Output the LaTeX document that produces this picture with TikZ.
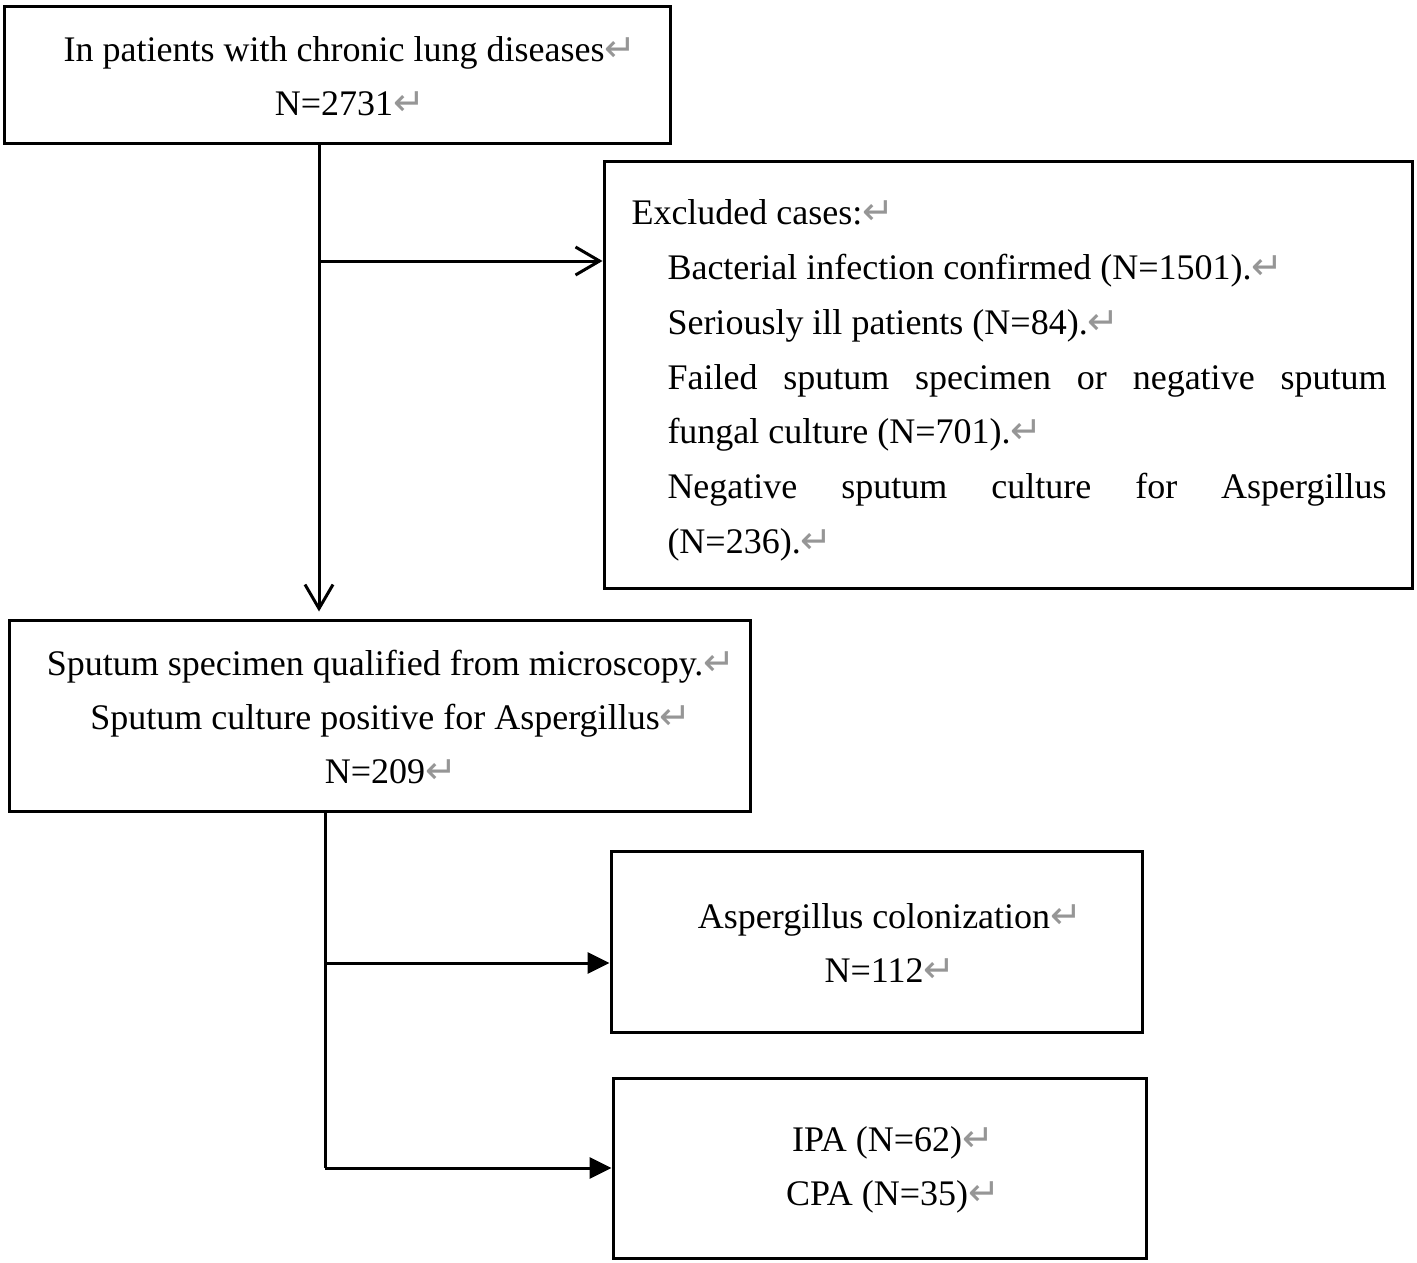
\documentclass[tikz,border=0pt]{standalone}
\usepackage{fontspec}
\setmainfont{Liberation Serif}
\newfontfamily\symfont{DejaVu Sans}
\usetikzlibrary{arrows.meta}
\definecolor{retgray}{RGB}{150,150,150}
\newcommand{\ret}{{\symfont\fontsize{38}{38}\selectfont\textcolor{retgray}{↵}}}
\begin{document}
\begin{tikzpicture}[x=1pt,y=-1pt, line width=3pt,
  box/.style={draw, rectangle, inner sep=0pt},
  txt/.style={align=center, font=\fontsize{36}{54}\selectfont, inner sep=0pt},
  openarrow/.style={-{Straight Barb[length=24pt,width=28pt,line width=3pt]}},
  fullarrow/.style={-{Triangle[length=22pt,width=21pt]}}
]
\useasboundingbox (0,0) rectangle (1417,1263);
% boxes
\node[box, minimum width=666pt, minimum height=136pt] (b1) at (337,75) {};
\node[box, minimum width=808pt, minimum height=427pt] (b2) at (1008,374.5) {};
\node[box, minimum width=741pt, minimum height=191pt] (b3) at (379.5,715.5) {};
\node[box, minimum width=531pt, minimum height=181pt] (b4) at (876.5,941.5) {};
\node[box, minimum width=533pt, minimum height=180pt] (b5) at (879.5,1168) {};
% texts
\node[txt] (t1) at (350,76) {In patients with chronic lung diseases\ret\\N=2731\ret};
\node[txt] (t3) at (391,717) {Sputum specimen qualified from microscopy.\ret\\Sputum culture positive for Aspergillus\ret\\N=209\ret};
\node[txt] (t4) at (890,943) {Aspergillus colonization\ret\\N=112\ret};
\node[txt] (t5) at (893,1170) {IPA (N=62)\ret\\CPA (N=35)\ret};
\node[inner sep=0pt, text width=755pt, anchor=west, align=justify,
      font=\fontsize{36}{54.8}\selectfont] (t2) at (630,380.5) {%
  \parindent=0pt\leftskip=0pt Excluded cases:\ret\par
  \leftskip=36pt
  Bacterial infection confirmed (N=1501).\ret\par
  Seriously ill patients (N=84).\ret\par
  Failed sputum specimen or negative sputum\linebreak fungal culture (N=701).\ret\par
  Negative sputum culture for Aspergillus\linebreak (N=236).\ret\par};
% connectors
\coordinate (j1) at (319,261);
\coordinate (j2) at (325,963);
\coordinate (j3) at (325,1168);
\draw[openarrow, shorten >=7pt] (b1.south -| j1) -- (b3.north -| j1);
\draw[openarrow] (j1) -- (j1 -| b2.west);
\draw (b3.south -| j2) -- (j3);
\draw[fullarrow] (j2) -- (j2 -| b4.west);
\draw[fullarrow] (j3) -- (j3 -| b5.west);
\end{tikzpicture}
\end{document}
